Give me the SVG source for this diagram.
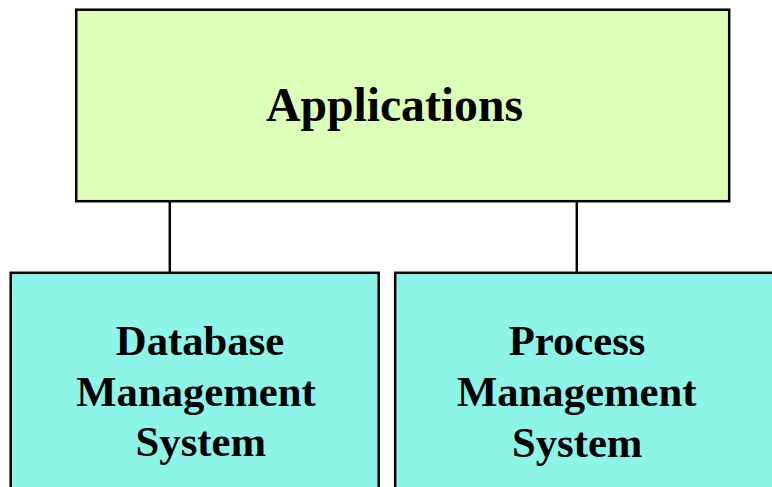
<svg xmlns="http://www.w3.org/2000/svg" width="772" height="487" viewBox="0 0 772 487">
  <style>
    .box { stroke: #000; stroke-width: 2.5; }
    .top { fill: #dbffb7; }
    .sub { fill: #8cf5e8; }
    .wire { stroke: #000; stroke-width: 2.5; fill: none; }
    text { font-family: "Liberation Serif", "Times New Roman", serif; font-weight: bold; fill: #000; text-anchor: middle; }
    .big { font-size: 47.7px; }
    .mid { font-size: 42.7px; }
  </style>
  <rect width="772" height="487" fill="#fff"/>

  <!-- links from the top layer down to the two subsystems -->
  <g id="connectors">
    <line class="wire" x1="169.8" y1="201.2" x2="169.8" y2="272.8"/>
    <line class="wire" x1="576.8" y1="201.2" x2="576.8" y2="272.8"/>
  </g>

  <g id="applications">
    <rect class="box top" x="76.2" y="9.7" width="653" height="191.5"/>
    <text class="big" x="394.5" y="121">Applications</text>
  </g>

  <g id="dbms">
    <rect class="box sub" x="10.7" y="272.8" width="368" height="240"/>
    <text class="mid" x="200" y="354.5">Database</text>
    <text class="mid" x="196" y="405.7">Management</text>
    <text class="mid" x="200.8" y="456">System</text>
  </g>

  <g id="pms">
    <rect class="box sub" x="395.2" y="272.8" width="400" height="240"/>
    <text class="mid" x="577" y="355">Process</text>
    <text class="mid" x="576.7" y="405.7">Management</text>
    <text class="mid" x="577.2" y="456.7">System</text>
  </g>
</svg>
